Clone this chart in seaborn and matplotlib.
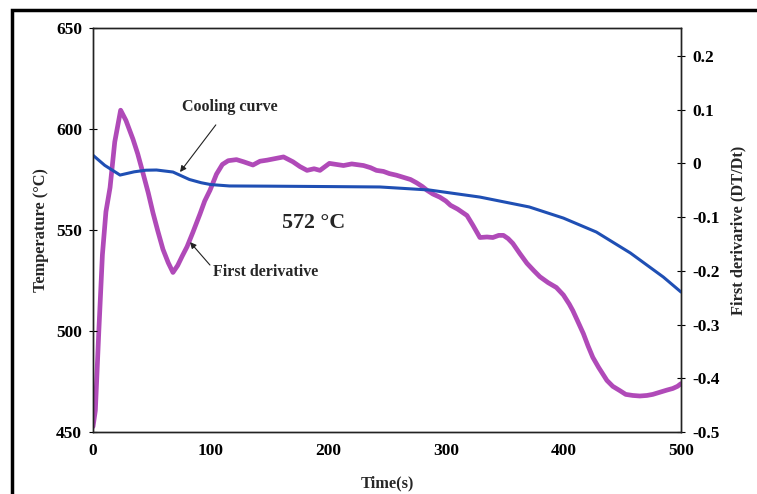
import matplotlib
matplotlib.use("Agg")
import matplotlib.pyplot as plt
import seaborn as sns
import pandas as pd
from matplotlib.patches import Rectangle

# ---- data ----
cool_t = [0, 10, 23, 35, 45, 54, 68, 82, 92, 100, 116, 150, 200, 244, 286, 329,
          371, 400, 428, 457, 485, 500]
cool_T = [587.0, 582.0, 577.2, 578.8, 579.6, 579.7, 578.7, 575.0, 573.4, 572.5,
          571.8, 571.7, 571.5, 571.3, 569.8, 566.3, 561.4, 555.9, 549.0, 538.6,
          526.7, 519.3]

der_t = [0, 2, 5, 8, 11, 14.5, 18.5, 23.5, 28, 34, 38, 42.5, 47, 51, 55, 59.5, 64,
         68, 72, 76, 80, 85, 91, 95, 99.5, 105, 110, 115, 122, 128, 136, 142, 148,
         155, 162, 170, 176, 182, 188, 193, 201, 207, 213, 220, 230, 236, 241, 247,
         252, 258, 264, 270, 275, 280, 284, 289, 295, 300, 304, 310, 318, 323, 329,
         335, 340, 345, 349, 353, 357, 363, 369, 375, 380, 387, 394, 400, 405, 408,
         412, 417, 421, 425, 430, 437, 442, 448, 453, 459, 465, 471, 476, 482, 488,
         493, 497, 500]
der_v = [-0.49, -0.46, -0.31, -0.17, -0.09, -0.045, 0.04, 0.099, 0.08, 0.045, 0.018,
         -0.018, -0.055, -0.092, -0.125, -0.16, -0.185, -0.203, -0.19, -0.172,
         -0.155, -0.128, -0.094, -0.07, -0.05, -0.02, -0.002, 0.005, 0.007, 0.003,
         -0.003, 0.004, 0.006, 0.009, 0.012, 0.003, -0.006, -0.013, -0.010, -0.013,
         0.0, -0.002, -0.004, -0.001, -0.004, -0.008, -0.013, -0.015, -0.019,
         -0.022, -0.026, -0.030, -0.036, -0.043, -0.050, -0.057, -0.063, -0.070,
         -0.078, -0.085, -0.097, -0.115, -0.138, -0.137, -0.138, -0.134, -0.134,
         -0.140, -0.149, -0.168, -0.186, -0.200, -0.211, -0.222, -0.231, -0.245,
         -0.262, -0.274, -0.293, -0.317, -0.340, -0.361, -0.380, -0.404, -0.415,
         -0.423, -0.430, -0.432, -0.433, -0.432, -0.430, -0.426, -0.422, -0.419,
         -0.415, -0.410]

x_ticks = [0, 100, 200, 300, 400, 500]
left_ticks = [450, 500, 550, 600, 650]
right_ticks = [-0.5, -0.4, -0.3, -0.2, -0.1, 0, 0.1, 0.2]
right_labels = ["-0.5", "-0.4", "-0.3", "-0.2", "-0.1", "0", "0.1", "0.2"]

sns.set_style("white")
plt.rcParams["font.family"] = ["Liberation Serif", "DejaVu Serif"]
plt.rcParams["font.weight"] = "bold"

fig = plt.figure(figsize=(7.57, 4.94), dpi=100)
ax = fig.add_axes([93/757, 62/494, 588/757, 404/494])
ax2 = ax.twinx()

blue = "#1f4fb4"
purple = "#b04ab8"

df_c = pd.DataFrame({"t": cool_t, "T": cool_T})
df_d = pd.DataFrame({"t": der_t, "d": der_v})

sns.lineplot(data=df_d, x="t", y="d", ax=ax2, color=purple, linewidth=3.4)
sns.lineplot(data=df_c, x="t", y="T", ax=ax, color=blue, linewidth=2.2)
ax.set_zorder(ax2.get_zorder() + 1)
ax.patch.set_visible(False)

ax.set_xlim(0, 500)
ax.set_ylim(450, 650)
ax2.set_ylim(-0.5, 0.252)
ax.set_xticks(x_ticks)
ax.set_yticks(left_ticks)
ax2.set_yticks(right_ticks)
ax2.set_yticklabels(right_labels)

for a in (ax, ax2):
    a.tick_params(direction="inout", length=6, width=0.8, labelsize=12.5,
                  colors="black", pad=5)
    for s in a.spines.values():
        s.set_color("#222222")
        s.set_linewidth(1.0)
for lab in ax.get_xticklabels() + ax.get_yticklabels() + ax2.get_yticklabels():
    lab.set_fontweight("bold")

ax.set_xlabel("Time(s)", fontsize=11.8, fontweight="bold", labelpad=12)
ax.set_ylabel("Temperature (°C)", fontsize=11.8, fontweight="bold", labelpad=5)
ax2.set_ylabel("First derivarive (DT/Dt)", fontsize=11.8, fontweight="bold",
               labelpad=8)

arrow = dict(arrowstyle="-|>", color="#222222", lw=0.8, mutation_scale=9)
ax.annotate("Cooling curve", xy=(74, 578.7), xytext=(116, 610.9),
            fontsize=11.5, fontweight="bold", ha="center", va="center",
            arrowprops=dict(arrow, shrinkA=6, shrinkB=0))
ax.annotate("First derivative", xy=(82.5, 544), xytext=(147, 529.2),
            fontsize=11.5, fontweight="bold", ha="center", va="center",
            arrowprops=dict(arrow, shrinkA=0, shrinkB=0,
                            relpos=(0.0, 0.7)))
ax.text(188, 553.5, "572 °C", fontsize=15.8, fontweight="bold",
        ha="center", va="center")

# outer frame of the figure (left and top edges visible)
fig.patches.append(Rectangle((12/757, -0.2), 1.5, 1.2 - 10/494,
                             transform=fig.transFigure, fill=False,
                             edgecolor="black", linewidth=2.5))

fig.savefig("out.png", dpi=100)
